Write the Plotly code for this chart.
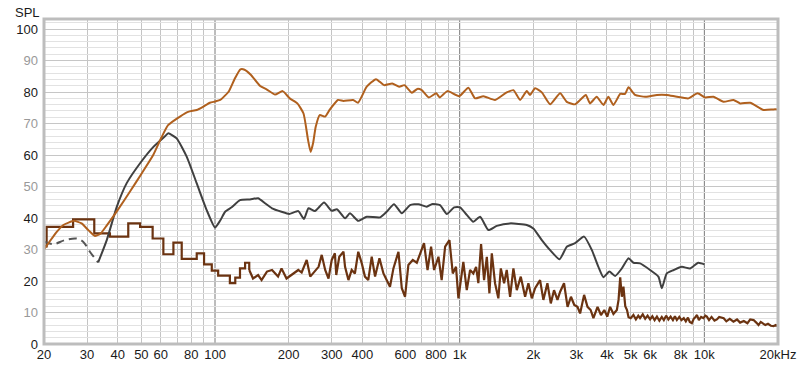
import plotly.graph_objects as go

# ---------------- data ----------------
SPL_F = [20, 22.5, 24, 26.5, 28.5, 30.5, 32.3, 34, 36, 40, 45, 50, 55.9, 60.6, 64.3, 71.9, 77.6, 84.2,
         89.3, 95.3, 100, 105, 113.6, 120, 127, 132, 140, 153, 163, 176, 189, 202, 217, 230, 240, 246,
         252, 258, 268, 282, 295, 318, 335, 367, 384, 417, 455, 491, 530, 566, 594, 638, 671, 700, 748,
         802, 829, 891, 996, 1085, 1156, 1250, 1395, 1557, 1658, 1766, 1880, 1940, 2034, 2166, 2343,
         2574, 2740, 2963, 3106, 3277, 3410, 3630, 3870, 4050, 4250, 4530, 4740, 4900, 5210, 5730,
         6000, 6400, 7020, 7720, 8610, 9380, 10080, 10900, 11970, 13150, 14000, 15400, 17450, 19170, 20000]
SPL_DB = [30.0, 35.5, 37.8, 39.1, 38.3, 36.0, 34.3, 35.0, 37.5, 42.5, 48.5, 54.0, 60.0, 65.8, 69.5, 72.2, 73.7, 74.3,
          75.3, 76.6, 77.0, 77.5, 80.1, 84.0, 87.2, 87.1, 85.5, 81.9, 80.8, 79.2, 80.3, 78.0, 76.4, 73.2, 64.8, 61.0,
          64.0, 69.0, 72.7, 72.2, 74.5, 77.5, 77.2, 77.5, 76.6, 81.7, 84.1, 82.2, 82.7, 81.7, 82.2, 79.8, 81.0, 80.6, 78.3,
          79.6, 78.3, 80.3, 78.7, 81.4, 78.0, 78.7, 77.5, 79.9, 80.6, 77.5, 80.3, 79.1, 81.2, 79.9, 76.1,
          79.6, 76.9, 76.1, 77.5, 79.1, 76.4, 78.5, 75.9, 78.5, 75.9, 79.4, 79.4, 81.5, 79.1, 78.5,
          78.7, 79.1, 79.1, 78.5, 78.0, 79.6, 78.3, 78.5, 76.9, 77.5, 76.4, 76.6, 74.3, 74.5, 74.5]

DIST_DASH_F = [20, 21.8, 24.4, 27.2, 28.9, 30.8, 33.3]
DIST_DASH_DB = [32.5, 31.7, 33.0, 33.5, 32.5, 29.3, 25.9]

DIST_F = [33.3, 36.1, 39.7, 43.5, 49.4, 56, 62.5, 64.4, 69.7, 76.6, 84.2, 92.5, 100, 105, 110, 117, 126.5,
          139, 150, 160, 171, 187, 201, 219, 231, 241, 256, 279, 300, 315, 340, 356, 385, 417, 473, 503,
          539, 580, 627, 678, 734, 769, 831, 886, 949, 1004, 1069, 1137, 1212, 1310, 1418, 1607, 1880,
          2000, 2166, 2343, 2560, 2740, 2963, 3225, 3470, 3690, 3870, 4090, 4320, 4600, 4900, 5130,
          5460, 6000, 6490, 6700, 7020, 7500, 8090, 8750, 9440, 10000]
DIST_DB = [25.9, 33.0, 43.6, 51.0, 57.4, 62.6, 66.0, 66.9, 65.3, 59.5, 51.0, 42.5, 37.0, 39.2, 42.0, 43.4, 45.7,
           45.9, 46.3, 44.7, 43.1, 42.0, 41.3, 42.2, 39.7, 43.1, 42.2, 44.9, 42.3, 42.8, 39.9, 41.5, 39.1, 40.4, 40.2, 42.0,
           44.4, 41.5, 44.1, 44.4, 43.6, 44.4, 44.1, 41.3, 43.4, 43.4, 41.0, 38.8, 40.4, 36.2, 37.5, 38.3, 37.8,
           36.7, 33.0, 29.8, 26.9, 30.9, 32.0, 34.1, 29.8, 24.5, 21.2, 23.0, 21.6, 24.0, 27.2, 25.8,
           25.6, 23.5, 21.4, 17.7, 22.4, 23.5, 24.5, 24.0, 25.8, 25.3]

NOISE_STEP_F = [20, 20.5, 26.3, 32.1, 37.2, 44.2, 49.4, 55.6, 61.5, 67.6, 73.1, 84.2, 90.2, 97, 103,
                115, 121, 126.5, 132.7, 138]
NOISE_STEP_DB = [31.0, 37.2, 39.6, 35.1, 34.1, 38.3, 37.2, 33.5, 28.5, 32.2, 27.0, 28.8, 25.3, 23.3, 21.7,
                 19.3, 21.1, 24.0, 25.8, 23.5]

NOISE_F = [138, 143, 150, 155, 163, 171, 181, 187, 196, 206, 219, 226, 237, 245, 256, 265, 273, 282, 291,
           300, 309, 313, 322, 335, 340, 351, 362, 373, 385, 398, 410, 423, 437, 451, 470, 488, 503, 519,
           536, 562, 580, 598, 617, 643, 668, 689, 715, 739, 764, 786, 819, 844, 872, 908, 937, 966, 988,
           1035, 1069, 1103, 1137, 1167, 1192, 1223, 1258, 1291, 1323, 1353, 1395, 1439, 1473, 1519, 1557,
           1607, 1658, 1712, 1777, 1851, 1909, 1971, 2034, 2131, 2198, 2283, 2357, 2430, 2510, 2574, 2670,
           2760, 2850, 2940, 3030, 3106, 3225, 3330, 3430, 3520, 3660, 3780, 3900, 4010, 4120, 4250, 4390,
           4460, 4530, 4600, 4670, 4750, 4830, 4900, 5000, 5130, 5250, 5370, 5460, 5600, 5730, 5860, 6000,
           6130, 6260, 6400, 6550, 6700, 6830, 6980, 7130, 7280, 7440, 7580, 7720, 7900, 8060, 8240, 8400,
           8570, 8720, 8890, 9050, 9200, 9330, 9500, 9700, 9920, 10100, 10240, 10450, 10700, 11000, 11250,
           11500, 12000, 12300, 12700, 13150, 13600, 14000, 14500, 15000, 15400, 15900, 16300, 16650, 17000,
           17400, 17760, 18200, 18700, 19200, 19600, 20000]
NOISE_DB = [23.5, 20.8, 21.9, 20.3, 23.0, 23.5, 21.4, 24.0, 20.8, 22.1, 23.5, 22.7, 26.7, 21.4, 23.0, 24.5, 28.3, 23.5, 20.8,
            26.7, 28.8, 21.9, 27.7, 29.3, 24.5, 20.3, 23.5, 22.4, 29.3, 25.6, 21.4, 20.3, 27.7, 21.4, 27.2, 22.4, 20.3, 18.2,
            24.0, 29.3, 17.7, 15.0, 25.1, 26.7, 25.8, 28.8, 32.0, 23.5, 30.9, 23.5, 27.7, 20.3, 30.9, 33.0, 22.4, 24.5, 14.5,
            26.1, 17.1, 23.5, 22.4, 24.5, 19.3, 31.7, 20.3, 27.7, 16.1, 28.8, 19.3, 14.5, 24.0, 19.3, 23.5,
            15.0, 24.0, 17.1, 21.4, 15.0, 19.3, 14.5, 17.7, 20.3, 14.0, 19.3, 12.9, 17.1, 14.0, 16.6, 19.3,
            11.8, 15.0, 12.4, 11.8, 9.7, 15.6, 11.8, 10.8, 8.2, 11.8, 9.2, 10.8, 8.7, 11.8, 9.5, 10.8,
            14.0, 21.2, 15.0, 18.2, 12.0, 10.8, 8.5, 8.2, 9.2, 7.8, 9.0, 8.2, 9.4, 8.0, 9.0, 7.8,
            8.8, 7.6, 8.7, 7.4, 8.6, 7.6, 9.0, 7.8, 8.7, 7.6, 8.8, 7.6, 8.6, 7.6, 8.2, 7.2,
            8.4, 7.0, 6.6, 8.0, 8.6, 9.2, 7.6, 8.6, 8.2, 9.0, 8.7, 7.6, 8.6, 7.4, 7.8,
            8.6, 8.2, 7.2, 8.0, 7.1, 7.8, 6.8, 7.3, 6.6, 7.8, 7.6, 6.8, 6.0, 7.0,
            6.4, 6.0, 6.4, 5.8, 5.7, 6.0, 5.6]

X_TICKS = [20, 30, 40, 50, 60, 80, 100, 200, 300, 400, 600, 800, 1000, 2000, 3000, 4000, 5000, 6000, 8000, 10000, 20000]
X_LABELS = ["20", "30", "40", "50", "60", "80", "100", "200", "300", "400", "600", "800", "1k", "2k", "3k",
            "4k", "5k", "6k", "8k", "10k", "20kHz"]
Y_TICKS = [0, 10, 20, 30, 40, 50, 60, 70, 80, 90, 100]
MAJOR_X_LINES = [100, 1000, 10000]

# ---------------- colours ----------------
C_SPL = "#b0601e"
C_DIST = "#404040"
C_NOISE = "#6b3311"
FONT = "Liberation Sans, Arial, sans-serif"

fig = go.Figure()
fig.add_trace(go.Scatter(x=NOISE_STEP_F, y=NOISE_STEP_DB, mode="lines", line=dict(color=C_NOISE, width=2.2, shape="hv")))
fig.add_trace(go.Scatter(x=NOISE_F, y=NOISE_DB, mode="lines", line=dict(color=C_NOISE, width=2.2)))
fig.add_trace(go.Scatter(x=DIST_DASH_F, y=DIST_DASH_DB, mode="lines", line=dict(color="#555555", width=2, dash="8px,5px", shape="spline")))
fig.add_trace(go.Scatter(x=DIST_F, y=DIST_DB, mode="lines", line=dict(color=C_DIST, width=2, shape="spline", smoothing=0.5)))
fig.add_trace(go.Scatter(x=SPL_F, y=SPL_DB, mode="lines", line=dict(color=C_SPL, width=2, shape="spline", smoothing=0.5)))

minor_x = []
for dec in [10, 100, 1000, 10000]:
    for m in range(1, 10):
        v = dec * m
        if 20 <= v <= 20000 and v not in MAJOR_X_LINES:
            minor_x.append(v)

ytext = []
for v in Y_TICKS:
    if v % 20 == 0:
        ytext.append(f"<span style='color:#1a1a1a'>{v}</span>")
    else:
        ytext.append(f"<span style='color:#999999'>{v}</span>")

fig.update_xaxes(type="log", range=[1.30103, 4.30103], tickvals=X_TICKS, ticktext=X_LABELS,
                 showgrid=False, zeroline=False, showline=False, automargin=False,
                 tickfont=dict(family=FONT, size=13, color="#1a1a1a"),
                 ticks="", ticklabelstandoff=1,
                 minor=dict(tickvals=minor_x, showgrid=True, gridcolor="#c4c4c4", gridwidth=1, ticks=""))
fig.update_yaxes(range=[0, 103.2], tickvals=Y_TICKS, ticktext=ytext,
                 showgrid=True, gridcolor="#c6c6c6", gridwidth=1, zeroline=False, showline=False, automargin=False,
                 tickfont=dict(family=FONT, size=13),
                 ticks="", ticklabelstandoff=5,
                 minor=dict(dtick=2, showgrid=True, gridcolor="#e2e2e2", gridwidth=1, ticks=""))

for v in MAJOR_X_LINES:
    fig.add_vline(x=v, line=dict(color="#7a7a7a", width=1), layer="below")

# plot frame
fig.add_shape(type="rect", xref="paper", yref="paper", x0=0, x1=1, y0=0, y1=1,
              line=dict(color="#bdbdbd", width=3), layer="above")

fig.add_annotation(text="SPL", xref="paper", yref="paper", x=-0.022, y=1.0, yshift=7,
                   xanchor="center", yanchor="middle", showarrow=False,
                   font=dict(family=FONT, size=13, color="#1a1a1a"))

fig.update_layout(width=800, height=370, margin=dict(l=44, r=22, t=19, b=26),
                  paper_bgcolor="white", plot_bgcolor="white", showlegend=False)

fig.write_html("out.html", config={"displayModeBar": False},
               post_script="document.body.style.margin='0px';document.body.style.overflow='hidden';")
